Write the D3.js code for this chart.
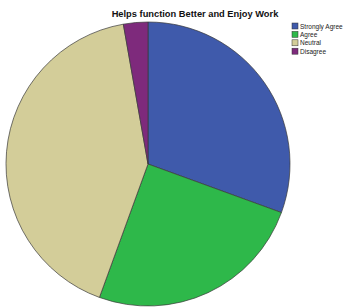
<!DOCTYPE html>
<html lang="en">
<head>
    <meta charset="UTF-8">
    <title>Helps function Better and Enjoy Work</title>
    <script src="https://d3js.org/d3.v7.min.js"></script>
    <style>
        body { margin: 0; background: #fff; }
        .slice { stroke: #3a3a3a; stroke-width: 0.7; }
        .title { font-family: "Liberation Sans", Arial, sans-serif; font-weight: bold; font-size: 9.3px; fill: #111; }
        .legend-text { font-family: "Liberation Sans", Arial, sans-serif; font-size: 6.5px; fill: #222; }
    </style>
</head>
<body>
    <div id="chart-container"></div>
    <script>
// Response categories and counts
const categories = ['Strongly Agree', 'Agree', 'Neutral', 'Disagree'];
const counts = [11, 9, 15, 1];
const colors = ['#3f5aab', '#2eb84a', '#d3cd99', '#7e2a7c'];

const width = 345, height = 307;
const cx = 148, cy = 164, radius = 142;

const svg = d3.select('#chart-container')
    .append('svg')
    .attr('width', width)
    .attr('height', height);

// Title
svg.append('text')
    .attr('class', 'title')
    .attr('x', 195)
    .attr('y', 17)
    .attr('text-anchor', 'middle')
    .text('Helps function Better and Enjoy Work');

const color = d3.scaleOrdinal().domain(categories).range(colors);

const pie = d3.pie().sort(null).value(d => d.count);
const arc = d3.arc().innerRadius(0).outerRadius(radius);

const data = categories.map((c, i) => ({ category: c, count: counts[i] }));

svg.append('g')
    .attr('transform', `translate(${cx},${cy})`)
    .selectAll('path')
    .data(pie(data))
    .enter()
    .append('path')
    .attr('class', 'slice')
    .attr('d', arc)
    .attr('fill', d => color(d.data.category));

// Legend
const legend = svg.append('g')
    .attr('transform', 'translate(292,23)');

const rows = legend.selectAll('g')
    .data(categories)
    .enter()
    .append('g')
    .attr('transform', (d, i) => `translate(0,${i * 8.4})`);

rows.append('rect')
    .attr('width', 6)
    .attr('height', 6)
    .attr('fill', d => color(d))
    .attr('stroke', '#333')
    .attr('stroke-width', 0.5);

rows.append('text')
    .attr('class', 'legend-text')
    .attr('x', 8)
    .attr('y', 5.5)
    .text(d => d);
    </script>
</body>
</html>
